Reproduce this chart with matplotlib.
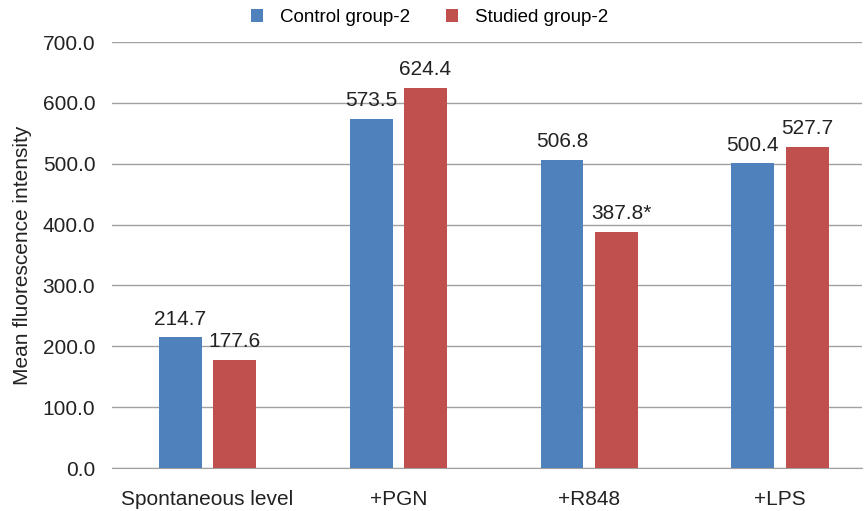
import matplotlib.pyplot as plt
import numpy as np

categories = ["Spontaneous level", "+PGN", "+R848", "+LPS"]
control = [214.7, 573.5, 506.8, 500.4]
studied = [177.6, 624.4, 387.8, 527.7]
studied_labels = ["177.6", "624.4", "387.8*", "527.7"]

plt.rcParams["font.family"] = ["Liberation Sans", "DejaVu Sans"]

fig = plt.figure(figsize=(8.64, 5.11), dpi=100)
ax = fig.add_axes([112 / 864, (511 - 468) / 511, (862 - 112) / 864, (468 - 42) / 511])

x = np.arange(len(categories))
w = 0.225
off = 0.142
b1 = ax.bar(x - off, control, w, color="#4F81BD", label="Control group-2", zorder=3)
b2 = ax.bar(x + off, studied, w, color="#C0504D", label="Studied group-2", zorder=3)

for rect, v in zip(b1, control):
    ax.text(rect.get_x() + rect.get_width() / 2, v + 14, f"{v:.1f}",
            ha="center", va="bottom", fontsize=15, color="#222222")
for rect, v, s in zip(b2, studied, studied_labels):
    ax.text(rect.get_x() + rect.get_width() / 2 + (0.03 if s.endswith("*") else 0), v + 14, s,
            ha="center", va="bottom", fontsize=15, color="#222222")

ax.set_xlim(-0.5, 3.43)
ax.set_ylim(0, 700)
ax.set_yticks(np.arange(0, 701, 100))
ax.set_yticklabels([f"{t:.1f}" for t in range(0, 701, 100)], fontsize=15, color="#222222")
ax.set_xticks(x)
ax.set_xticklabels(categories, fontsize=15, color="#222222")
ax.tick_params(axis="y", length=0, pad=12)
ax.tick_params(axis="x", length=0, pad=16)
ax.grid(axis="y", color="#A0A0A0", linewidth=1, zorder=0)
for side in ["top", "right", "left"]:
    ax.spines[side].set_visible(False)
ax.spines["bottom"].set_color("#A0A0A0")
ax.set_ylabel("Mean fluorescence intensity", fontsize=15, color="#222222", labelpad=8)

fig.legend(handles=[b1, b2], loc="upper center", bbox_to_anchor=(0.497, 1.015), ncol=2,
           frameon=False, fontsize=13.5, handlelength=0.65, handleheight=0.65,
           columnspacing=1.9, handletextpad=0.9)

fig.savefig("out.png", dpi=100)
